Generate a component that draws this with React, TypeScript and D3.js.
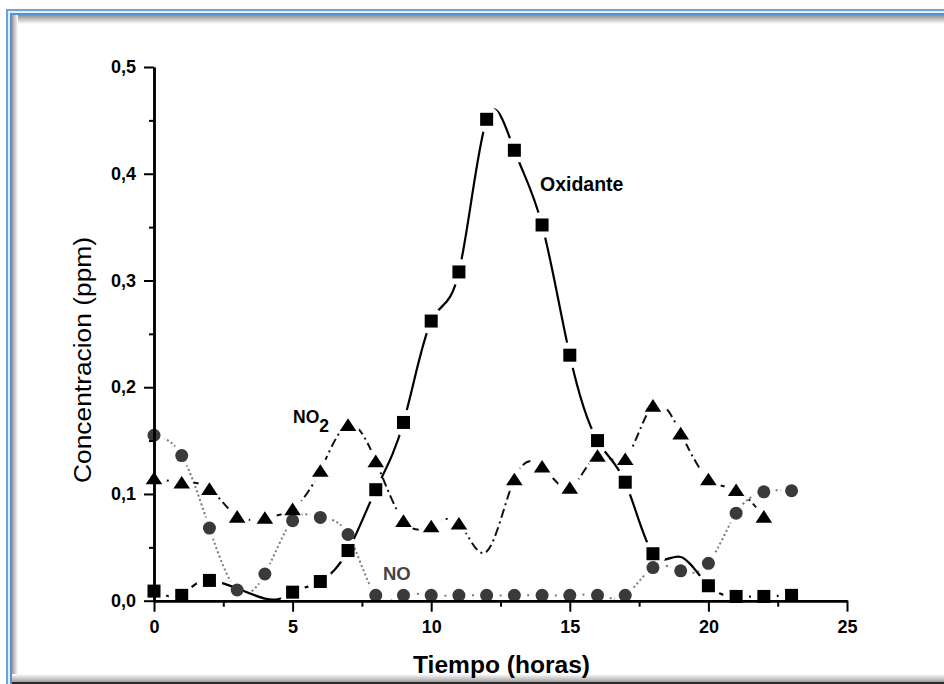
import React, { useEffect, useRef } from 'react'
import * as d3 from 'd3'

// horas y concentraciones (ppm)
const horasOxidante = [0, 1, 2, 4, 5, 6, 7, 8, 9, 10, 11, 12, 13, 14, 15, 16, 17, 18, 19, 20, 21, 22, 23]
const oxidante = [0.009, 0.005, 0.019, 0.002, 0.008, 0.018, 0.047, 0.104, 0.167, 0.262, 0.308, 0.451, 0.422, 0.352, 0.23, 0.15, 0.111, 0.044, 0.041, 0.014, 0.004, 0.004, 0.005]
// puntos por donde pasa la curva pero sin simbolo
const oxidanteSinSimbolo = [4, 19]

const horasNO = [0, 1, 2, 3, 4, 5, 6, 7, 8, 9, 10, 11, 12, 13, 14, 15, 16, 17, 18, 19, 20, 21, 22, 23]
const no = [0.155, 0.136, 0.068, 0.01, 0.025, 0.075, 0.078, 0.062, 0.005, 0.005, 0.005, 0.005, 0.005, 0.005, 0.005, 0.005, 0.005, 0.005, 0.031, 0.028, 0.035, 0.082, 0.102, 0.103]

const horasNO2 = [0, 1, 2, 3, 4, 5, 6, 7, 8, 9, 10, 11, 12, 13, 14, 15, 16, 17, 18, 19, 20, 21, 22]
const no2 = [0.115, 0.111, 0.105, 0.079, 0.078, 0.086, 0.122, 0.165, 0.131, 0.075, 0.07, 0.0725, 0.046, 0.114, 0.126, 0.106, 0.136, 0.133, 0.183, 0.157, 0.114, 0.104, 0.079]
const no2SinSimbolo = [12]

const ticksX = [0, 5, 10, 15, 20, 25]
const ticksXMenor = [2.5, 7.5, 12.5, 17.5, 22.5]
const ticksY = [0, 0.1, 0.2, 0.3, 0.4, 0.5]
const ticksYMenor = [0.05, 0.15, 0.25, 0.35, 0.45]

const W = 944
const H = 684
const fuente = "'Liberation Sans', Arial, sans-serif"

function App() {
	const ref = useRef<SVGSVGElement>(null)

	useEffect(() => {
		const svg = d3.select(ref.current)
		svg.selectAll('*').remove()

		const x = d3.scaleLinear().domain([0, 25]).range([154, 847])
		const y = d3.scaleLinear().domain([0, 0.5]).range([600.7, 67])

		const defs = svg.append('defs')

		// marco de la ventana
		const gArr = defs.append('linearGradient').attr('id', 'sombraArriba')
			.attr('x1', 0).attr('y1', 0).attr('x2', 0).attr('y2', 1)
		gArr.append('stop').attr('offset', '0%').attr('stop-color', '#8c8c8c')
		gArr.append('stop').attr('offset', '100%').attr('stop-color', '#ffffff')
		const gIzq = defs.append('linearGradient').attr('id', 'sombraIzq')
			.attr('x1', 0).attr('y1', 0).attr('x2', 1).attr('y2', 0)
		gIzq.append('stop').attr('offset', '0%').attr('stop-color', '#9a9a9a')
		gIzq.append('stop').attr('offset', '100%').attr('stop-color', '#ffffff')
		const gAb = defs.append('linearGradient').attr('id', 'sombraAbajo')
			.attr('x1', 0).attr('y1', 0).attr('x2', 0).attr('y2', 1)
		gAb.append('stop').attr('offset', '0%').attr('stop-color', '#ffffff')
		gAb.append('stop').attr('offset', '100%').attr('stop-color', '#a0a0a0')

		defs.append('clipPath').attr('id', 'areaGrafico')
			.append('rect').attr('x', x(0)).attr('y', y(0.5))
			.attr('width', x(25) - x(0)).attr('height', y(0) - y(0.5))

		svg.append('rect').attr('width', W).attr('height', H).attr('fill', '#ffffff')
		const marco = svg.append('g')
		marco.append('rect').attr('x', 12).attr('y', 15).attr('width', W - 12).attr('height', 9).attr('fill', 'url(#sombraArriba)')
		marco.append('rect').attr('x', 12).attr('y', 15).attr('width', 6).attr('height', H - 15).attr('fill', 'url(#sombraIzq)')
		marco.append('rect').attr('x', 12).attr('y', 674).attr('width', W - 12).attr('height', 8).attr('fill', 'url(#sombraAbajo)')
		marco.append('rect').attr('x', 6).attr('y', 682).attr('width', W - 6).attr('height', 2).attr('fill', '#2a2a2a')
		const bandas = [['#6ba4dc', 0], ['#e2eefa', 2], ['#5592d1', 4]] as [string, number][]
		bandas.forEach(([c, o]) => {
			marco.append('rect').attr('x', 6 + o).attr('y', 9 + o).attr('width', W).attr('height', 2).attr('fill', c)
			marco.append('rect').attr('x', 6 + o).attr('y', 9 + o).attr('width', 2).attr('height', H).attr('fill', c)
		})

		// series
		const series = [
			{ id: 'no', horas: horasNO, vals: no, color: '#7a7a7a', dash: '2,2.6', ancho: 2, hueco: 11, ocultos: [] as number[] },
			{ id: 'no2', horas: horasNO2, vals: no2, color: '#111111', dash: '9,4,2,4', ancho: 2, hueco: 12, ocultos: no2SinSimbolo },
			{ id: 'ox', horas: horasOxidante, vals: oxidante, color: '#000000', dash: null, ancho: 2.2, hueco: 13, ocultos: oxidanteSinSimbolo },
		]

		const linea = d3.line<[number, number]>()
			.x(d => x(d[0]))
			.y(d => y(d[1]))
			.curve(d3.curveNatural)

		const gLineas = svg.append('g').attr('clip-path', 'url(#areaGrafico)')
		series.forEach(s => {
			const pts = s.horas.map((h, i) => [h, s.vals[i]] as [number, number])
			const visibles = pts.filter(p => s.ocultos.indexOf(p[0]) < 0)
			const mask = defs.append('mask').attr('id', 'hueco-' + s.id)
				.attr('maskUnits', 'userSpaceOnUse')
				.attr('x', 0).attr('y', 0).attr('width', W).attr('height', H)
			mask.append('rect').attr('width', W).attr('height', H).attr('fill', '#fff')
			mask.selectAll('circle').data(visibles).enter().append('circle')
				.attr('cx', d => x(d[0])).attr('cy', d => y(d[1])).attr('r', s.hueco).attr('fill', '#000')
			gLineas.append('path')
				.attr('d', linea(pts))
				.attr('fill', 'none')
				.attr('stroke', s.color)
				.attr('stroke-width', s.ancho)
				.attr('stroke-dasharray', s.dash)
				.attr('mask', 'url(#hueco-' + s.id + ')')
		})

		// simbolos
		svg.append('g').selectAll('circle')
			.data(horasNO.map((h, i) => [h, no[i]]))
			.enter().append('circle')
			.attr('cx', d => x(d[0])).attr('cy', d => y(d[1]))
			.attr('r', 6.5).attr('fill', '#3a3a3a')

		svg.append('g').selectAll('path')
			.data(horasNO2.map((h, i) => [h, no2[i]]).filter(d => no2SinSimbolo.indexOf(d[0]) < 0))
			.enter().append('path')
			.attr('d', 'M0,-6.3L8.3,6.3L-8.3,6.3Z')
			.attr('transform', d => 'translate(' + x(d[0]) + ',' + y(d[1]) + ')')
			.attr('fill', '#000')

		svg.append('g').selectAll('rect')
			.data(horasOxidante.map((h, i) => [h, oxidante[i]]).filter(d => oxidanteSinSimbolo.indexOf(d[0]) < 0))
			.enter().append('rect')
			.attr('x', d => x(d[0]) - 6.5).attr('y', d => y(d[1]) - 6.5)
			.attr('width', 13).attr('height', 13)
			.attr('fill', '#000')

		// ejes
		const estiloEje = (g: any) => {
			g.select('.domain').attr('stroke', '#000').attr('stroke-width', 2.5)
			g.selectAll('.tick line').attr('stroke', '#000').attr('stroke-width', 2)
			g.selectAll('.tick text')
				.attr('fill', '#000')
				.style('font-family', fuente)
				.style('font-size', '18px')
				.style('font-weight', 'bold')
		}
		const coma = (d: any) => d3.format('.1f')(d).replace('.', ',')

		svg.append('g').attr('transform', 'translate(0,' + y(0) + ')')
			.call(d3.axisBottom(x).tickValues(ticksXMenor).tickSize(6).tickSizeOuter(0).tickFormat(() => ''))
			.call(estiloEje)
		svg.append('g').attr('transform', 'translate(0,' + y(0) + ')')
			.call(d3.axisBottom(x).tickValues(ticksX).tickSize(11).tickSizeOuter(0).tickPadding(9).tickFormat(d3.format('d')))
			.call(estiloEje)
		svg.append('g').attr('transform', 'translate(' + x(0) + ',0)')
			.call(d3.axisLeft(y).tickValues(ticksYMenor).tickSize(5).tickSizeOuter(0).tickFormat(() => ''))
			.call(estiloEje)
		svg.append('g').attr('transform', 'translate(' + x(0) + ',0)')
			.call(d3.axisLeft(y).tickValues(ticksY).tickSize(10).tickSizeOuter(0).tickPadding(8).tickFormat(coma))
			.call(estiloEje)

		// titulos
		svg.append('text')
			.attr('x', 501.5).attr('y', 673)
			.attr('text-anchor', 'middle')
			.attr('textLength', 177).attr('lengthAdjust', 'spacingAndGlyphs')
			.style('font-family', fuente).style('font-size', '23.5px').style('font-weight', 'bold')
			.text('Tiempo (horas)')
		svg.append('text')
			.attr('transform', 'translate(91,360) rotate(-90)')
			.attr('text-anchor', 'middle')
			.attr('textLength', 246).attr('lengthAdjust', 'spacingAndGlyphs')
			.style('font-family', fuente).style('font-size', '23.5px')
			.text('Concentracion (ppm)')

		// etiquetas de las curvas
		svg.append('text').attr('x', 540).attr('y', 191)
			.style('font-family', fuente).style('font-size', '19.5px').style('font-weight', 'bold')
			.text('Oxidante')
		const tNO2 = svg.append('text').attr('x', 293).attr('y', 423)
			.style('font-family', fuente).style('font-size', '17.5px').style('font-weight', 'bold')
		tNO2.append('tspan').text('NO')
		tNO2.append('tspan').attr('dy', 8.5).text('2')
		svg.append('text').attr('x', 383).attr('y', 580)
			.attr('fill', '#444')
			.style('font-family', fuente).style('font-size', '18.5px').style('font-weight', 'bold')
			.text('NO')
	}, [])

	return (
		<svg ref={ref} width={W} height={H} style={{ position: 'absolute', left: 0, top: 0, display: 'block' }} />
	)
}

export default App
